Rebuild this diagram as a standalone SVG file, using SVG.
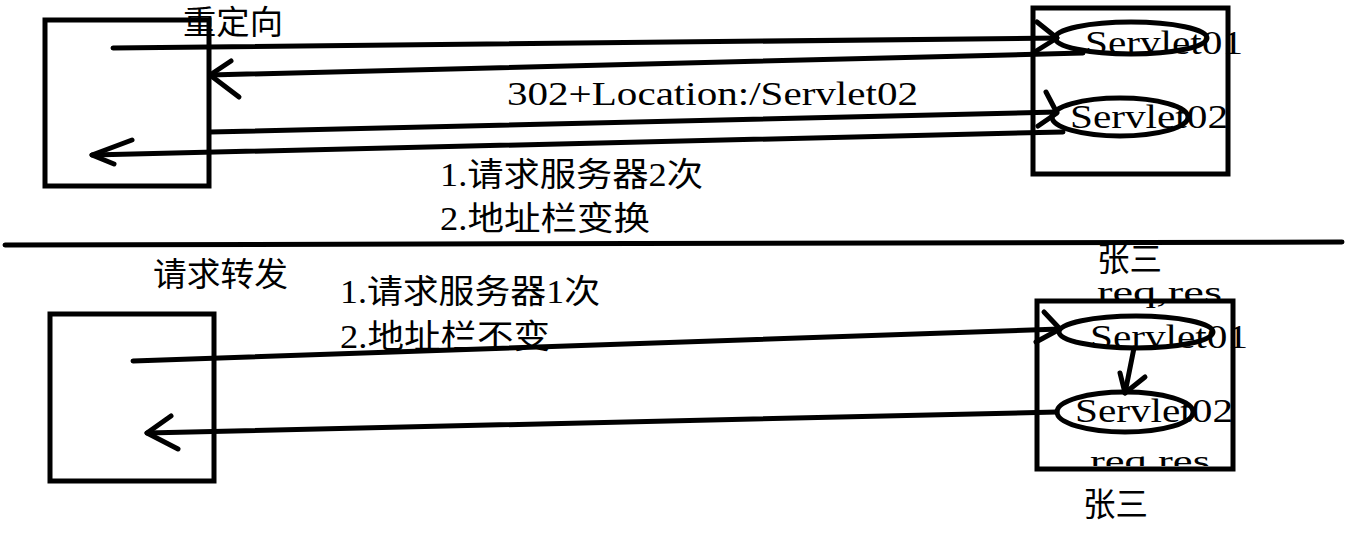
<svg xmlns="http://www.w3.org/2000/svg" width="1360" height="540" viewBox="0 0 1360 540">
<defs>
<style>
.box{fill:none;stroke:#000;stroke-width:5}
.ell{fill:none;stroke:#000;stroke-width:5}
.ln{fill:none;stroke:#000;stroke-width:5;stroke-linecap:round;stroke-linejoin:round}
.t{font-family:"Liberation Serif","Noto Sans CJK SC",serif;font-size:34px;fill:#000}
.s{font-family:"Liberation Serif",serif;font-size:30px;fill:#000}
.c{font-family:"Liberation Serif","Noto Sans CJK SC",sans-serif;font-size:33px;fill:#000}
</style>
<clipPath id="clipBottom"><rect x="1060" y="430" width="200" height="36"/></clipPath>
</defs>
<rect width="1360" height="540" fill="#fff"/>

<g id="title-redirect"><text class="c" x="183" y="34" textLength="100" lengthAdjust="spacingAndGlyphs">重定向</text></g>
<g id="client-top"><rect class="box" x="45" y="20" width="164" height="166"/></g>
<g id="server-top">
<rect class="box" x="1033" y="8" width="195" height="166"/>
</g>
<g id="servlet01-top">
<ellipse class="ell" cx="1131" cy="38" rx="76" ry="16"/>
<text class="t" x="1085" y="54" textLength="158" lengthAdjust="spacingAndGlyphs">Servlet01</text>
</g>
<g id="servlet02-top">
<ellipse class="ell" cx="1120" cy="117" rx="68" ry="19"/>
<text class="t" x="1070" y="128" textLength="158" lengthAdjust="spacingAndGlyphs">Servlet02</text>
</g>
<g id="label-302"><text class="t" x="507" y="105" textLength="411" lengthAdjust="spacingAndGlyphs">302+Location:/Servlet02</text></g>
<g id="notes-top">
<text class="c" x="440" y="186" textLength="263" lengthAdjust="spacingAndGlyphs">1.请求服务器2次</text>
<text class="c" x="440" y="230" textLength="210" lengthAdjust="spacingAndGlyphs">2.地址栏变换</text>
</g>

<g id="title-forward"><text class="c" x="153" y="286" textLength="135" lengthAdjust="spacingAndGlyphs">请求转发</text></g>
<g id="notes-bottom">
<text class="c" x="340" y="303" textLength="260" lengthAdjust="spacingAndGlyphs">1.请求服务器1次</text>
<text class="c" x="340" y="348" textLength="210" lengthAdjust="spacingAndGlyphs">2.地址栏不变</text>
</g>
<g id="client-bottom"><rect class="box" x="50" y="314" width="164" height="167"/></g>
<g id="labels-zhangsan">
<text class="c" x="1097" y="271" textLength="65" lengthAdjust="spacingAndGlyphs">张三</text>
<text class="s" x="1097" y="302" textLength="125" lengthAdjust="spacingAndGlyphs">req,res</text>
<text class="s" x="1090" y="471" textLength="120" lengthAdjust="spacingAndGlyphs" clip-path="url(#clipBottom)">req,res</text>
<text class="c" x="1083" y="516" textLength="65" lengthAdjust="spacingAndGlyphs">张三</text>
</g>
<g id="server-bottom"><rect class="box" x="1037" y="301" width="196" height="168"/></g>
<g id="servlet01-bottom">
<ellipse class="ell" cx="1136" cy="332" rx="77" ry="16"/>
<text class="t" x="1090" y="348" textLength="158" lengthAdjust="spacingAndGlyphs">Servlet01</text>
</g>
<g id="servlet02-bottom">
<ellipse class="ell" cx="1125" cy="412" rx="68" ry="20"/>
<text class="t" x="1075" y="422" textLength="158" lengthAdjust="spacingAndGlyphs">Servlet02</text>
</g>

<g id="connectors">
<polyline class="ln" points="113,48 1057,38"/>
<polyline class="ln" points="1037,22 1057,38 1033,53"/>
<polyline class="ln" points="1083,53 210,75"/>
<polyline class="ln" points="231,61 210,75 239,97"/>
<polyline class="ln" points="210,132 1057,112"/>
<polyline class="ln" points="1046,92 1057,113 1038,126"/>
<polyline class="ln" points="1063,132 92,155"/>
<polyline class="ln" points="132,140 92,155 114,164"/>
<polyline class="ln" points="5,245 1342,242"/>
<polyline class="ln" points="133,361 1060,329"/>
<polyline class="ln" points="1044,312 1060,329 1036,342"/>
<polyline class="ln" points="1057,412 147,433"/>
<polyline class="ln" points="171,416 147,433 178,449"/>
<polyline class="ln" points="1134,348 1125,393"/>
<polyline class="ln" points="1120,373 1125,393 1145,377"/>
</g>
</svg>
